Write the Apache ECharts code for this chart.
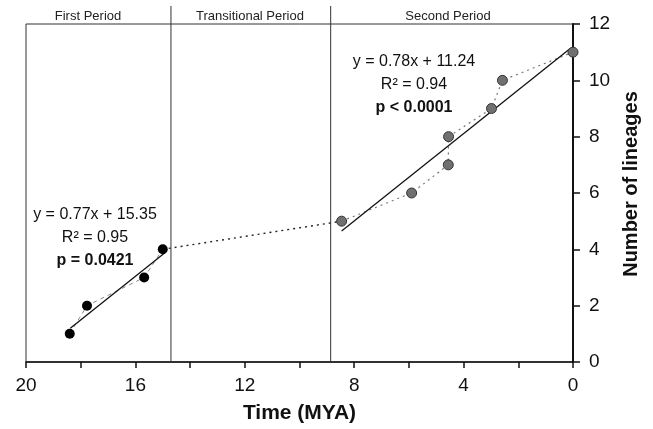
<!DOCTYPE html>
<html>
<head>
  <meta charset="utf-8">
  <title>Lineages through time</title>
  <script src="https://cdn.jsdelivr.net/npm/echarts@6/dist/echarts.min.js"></script>
</head>
<style>
  html,
  body {
    margin: 0;
    padding: 0;
    background: #fff;
  }
</style>

<body>
  <div id="chart" style="width: 653px; height: 429px;"></div>
  <script>
    // data (time in MYA, number of lineages)
    const firstTime = [18.4, 17.77, 15.68, 15.0];
    const firstCount = [1, 2, 3, 4];
    const secondTime = [8.46, 5.9, 4.56, 4.55, 2.98, 2.58, 0];
    const secondCount = [5, 6, 7, 8, 9, 10, 11];
    // regression lines, end points as drawn
    const firstFit = [[18.38, 1.2], [14.92, 3.88]];
    const secondFit = [[8.46, 4.65], [0.09, 11.14]];
    // period boundaries (MYA)
    const boundaries = [14.7, 8.86];
    const xTicks = [20, 16, 12, 8, 4, 0];
    const periodNames = ['First Period', 'Transitional Period', 'Second Period'];
    const firstStats = ['y = 0.77x + 15.35', 'R² = 0.95', 'p = 0.0421'];
    const secondStats = ['y = 0.78x + 11.24', 'R² = 0.94', 'p < 0.0001'];

    const font = "'Liberation Sans', Arial, sans-serif";
    const pairs = (xs, ys) => xs.map((x, i) => [x, ys[i]]);

    const chart = echarts.init(document.getElementById('chart'));

    // stats blocks: three lines, last one bold
    function statsText(lines, cx, cy) {
      return lines.map((t, i) => ({
        type: 'text',
        x: cx,
        y: cy + i * 23,
        style: {
          text: t,
          font: (i === 2 ? 'bold ' : '') + '16px ' + font,
          fill: '#111',
          align: 'center',
          verticalAlign: 'middle'
        }
      }));
    }

    const periodX = [88, 250, 448];
    const graphics = periodNames.map((t, i) => ({
      type: 'text',
      x: periodX[i],
      y: 16,
      style: { text: t, font: '13px ' + font, fill: '#222', align: 'center', verticalAlign: 'middle' }
    })).concat(statsText(firstStats, 95, 215), statsText(secondStats, 414, 62));

    const option = {
      animation: false,
      grid: {
        left: 26, right: 80, top: 24, bottom: 65,
        show: true, borderColor: '#333', borderWidth: 1
      },
      xAxis: {
        type: 'value',
        inverse: true,
        min: 0, max: 20, interval: 2,
        name: 'Time (MYA)',
        nameLocation: 'middle',
        nameGap: 41,
        nameTextStyle: { fontFamily: font, fontSize: 21, fontWeight: 'bold', color: '#111' },
        splitLine: { show: false },
        axisLine: { lineStyle: { color: '#111', width: 1.5 } },
        axisTick: { length: 6, lineStyle: { color: '#111', width: 1.5 } },
        axisLabel: {
          margin: 14,
          fontFamily: font, fontSize: 19, color: '#111',
          formatter: v => (xTicks.indexOf(v) >= 0 ? String(v) : '')
        }
      },
      yAxis: {
        type: 'value',
        position: 'right',
        min: 0, max: 12, interval: 2,
        name: 'Number of lineages',
        nameLocation: 'middle',
        nameRotate: 90,
        nameGap: 48,
        nameTextStyle: { fontFamily: font, fontSize: 20, fontWeight: 'bold', color: '#111', padding: [0, 0, 0, 18] },
        splitLine: { show: false },
        axisLine: { show: true, lineStyle: { color: '#111', width: 2 } },
        axisTick: { show: true, length: 7, lineStyle: { color: '#111', width: 1.5 } },
        axisLabel: { margin: 16, fontFamily: font, fontSize: 19, color: '#111' }
      },
      graphic: graphics,
      series: [
        // period dividers, running up past the frame
        ...boundaries.map(b => ({
          type: 'line',
          data: [[b, 0], [b, 12.64]],
          clip: false,
          symbol: 'none',
          lineStyle: { color: '#333', width: 1 },
          z: 1
        })),
        {
          type: 'line',
          data: pairs(firstTime, firstCount),
          symbol: 'none',
          lineStyle: { color: '#888', width: 1, type: [4, 4] },
          z: 2
        },
        {
          type: 'line',
          data: pairs(secondTime, secondCount),
          symbol: 'none',
          lineStyle: { color: '#777', width: 1.2, type: [2, 4] },
          z: 2
        },
        {
          // transitional link
          type: 'line',
          data: [[firstTime[3], firstCount[3]], [secondTime[0], secondCount[0]]],
          symbol: 'none',
          lineStyle: { color: '#222', width: 1.4, type: [2, 4] },
          z: 2
        },
        {
          type: 'line',
          data: firstFit,
          symbol: 'none',
          lineStyle: { color: '#111', width: 1.3 },
          z: 3
        },
        {
          type: 'line',
          data: secondFit,
          symbol: 'none',
          lineStyle: { color: '#111', width: 1.3 },
          z: 3
        },
        {
          type: 'scatter',
          data: pairs(firstTime, firstCount),
          symbolSize: 10,
          itemStyle: { color: '#000', opacity: 1 },
          z: 4
        },
        {
          type: 'scatter',
          data: pairs(secondTime, secondCount),
          symbolSize: 10,
          clip: false,
          itemStyle: { color: '#707070', borderColor: '#333', borderWidth: 1, opacity: 1 },
          z: 4
        }
      ]
    };
    chart.setOption(option);
  </script>
</body>
</html>
